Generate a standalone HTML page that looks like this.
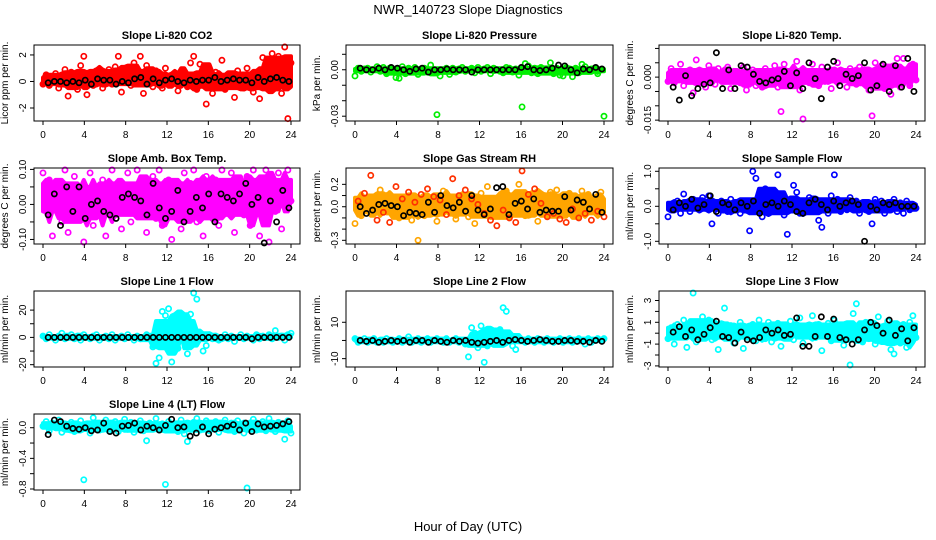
<!DOCTYPE html>
<html><head><meta charset="utf-8"><style>
body{margin:0;background:#fff}
svg{display:block;font-family:"Liberation Sans",sans-serif}
</style></head><body>
<svg id="c" width="936" height="540" viewBox="0 0 936 540">
<text x="468" y="14" text-anchor="middle" font-size="13">NWR_140723  Slope Diagnostics</text>
<text x="468" y="531" text-anchor="middle" font-size="13">Hour of Day (UTC)</text>
</svg>
<script>
const xTicks=[0,4,8,12,16,20,24];
const co2Cloud=[-0.2,0.5,-0.3,0.3,0.6,-0.5,0.1,0.9,-1.1,0.7,0.2,-0.6,1.2,1.9,-1.0,0.6,-0.3,0.8,0.3,-0.5,0.5,0.9,-0.2,1.1,1.9,-0.8,0.3,0.7,-0.3,1.4,0.2,1.9,-0.9,1.2,0.1,-0.4,0.8,0.3,-0.5,1.0,0.4,-0.2,0.6,-0.7,0.3,0.5,-0.4,1.4,1.9,-0.6,1.3,0.4,-1.7,0.2,-0.9,0.7,0.3,1.6,-0.6,0.2,0.5,-1.2,0.8,0.3,-0.5,1.0,0.2,-0.8,0.6,-1.3,1.8,0.4,-0.6,2.1,-0.4,1.9,-0.9,2.6,-2.8,1.4];
const co2Black=[-0.1,0,0,-0.1,0,-0.1,0.1,-0.2,0.2,0.1,0.1,-0.2,0,-0.1,0.2,0.3,-0.2,0.2,-0.1,0.1,0.2,0,-0.1,0.1,0,0.1,0.1,0.3,0,0.1,0.2,0.1,0.1,-0.1,0.3,0,0.2,0.3,0.1,0];
const presCloud=[-0.004,0.001,-0.001,0.0005,0.001,-0.0015,0.0,0.002,-0.001,0.0015,-0.0025,0.001,0.0,-0.005,-0.0055,0.002,-0.0025,0.001,-0.001,0.0015,-0.003,0.0005,0.001,-0.0015,0.003,-0.002,-0.029,-0.004,0.0,0.001,-0.003,0.001,-0.0015,0.0005,0.0015,-0.001,0.0,0.001,-0.002,0.0015,-0.001,0.0005,0.0015,-0.0025,0.001,0.0,-0.001,-0.002,0.0015,0.001,-0.0015,0.0005,-0.0035,-0.024,0.004,0.0025,-0.002,0.001,-0.0025,0.0015,0.0,-0.001,0.0045,-0.0025,0.001,-0.0035,-0.004,0.0015,-0.0015,-0.0045,0.001,-0.002,0.0035,0.002,-0.001,0.0005,0.001,-0.0025,0.0,-0.03];
const presBlack=[0.001,0.0,0.0,0.001,0.0,0.0015,0.001,0.0,-0.001,0.0005,0.001,-0.0015,0.0,0.0,0.0005,0.0,0.0,0.0,-0.0015,0.0,0.0,0.0,0.0,0.0,0.0,0.0,0.0015,0.002,0.0,-0.0005,0.0,0.001,0.003,0.0025,0.0,-0.002,0.0005,0.0,0.0015,0.0005];
const tempCloud=[-0.0015,0.003,-0.002,0.0015,0.0045,-0.003,0.001,0.0025,-0.0055,0.006,-0.001,0.002,-0.0035,0.004,0.0,-0.0025,0.003,0.0015,-0.001,0.0035,-0.004,0.002,0.0005,-0.002,0.0035,-0.0045,0.001,0.0025,-0.003,0.0015,-0.0035,0.003,-0.001,0.002,0.004,-0.0035,-0.012,0.0045,0.001,-0.002,0.0025,0.0055,-0.0045,-0.0155,0.002,-0.002,0.0045,0.001,-0.003,0.0035,-0.0015,0.002,-0.004,0.0025,0.005,-0.001,0.0015,-0.0035,0.003,0.0,-0.0025,0.0035,-0.0015,0.0025,-0.0045,-0.0135,0.005,-0.002,0.004,-0.004,0.0015,-0.006,0.003,0.0065,-0.0035,0.0065,0.002,-0.003,0.0045,-0.001];
const tempBlack=[-0.0035,-0.008,0.0005,-0.0065,-0.004,-0.0025,-0.002,0.0085,-0.004,0.0025,-0.004,0.004,0.0035,0.001,-0.0015,-0.002,-0.001,-0.0005,0.002,-0.003,0.0015,-0.004,0.005,-0.0005,-0.0075,0.0035,0.0055,-0.003,0.001,-0.0005,0.0005,0.005,-0.0045,-0.003,0.0045,-0.005,0.004,-0.0035,0.0065,-0.005];
const ambCloud=[0.09,-0.02,0.07,-0.09,0.03,0.06,-0.05,0.1,-0.08,0.02,0.08,-0.04,0.05,-0.11,0.01,0.09,-0.06,0.04,-0.02,0.07,-0.09,0.03,0.1,-0.03,0.06,-0.07,0.02,0.09,-0.05,0.04,0.11,-0.01,0.06,-0.08,0.03,0.08,-0.04,0.1,-0.06,0.0,0.07,-0.1,0.05,0.02,-0.07,0.09,-0.03,0.06,0.1,-0.05,0.03,-0.09,0.08,0.01,-0.04,0.07,-0.06,0.11,0.02,-0.02,0.09,-0.08,0.04,0.06,-0.03,0.08,-0.06,0.1,0.03,-0.09,0.05,0.12,-0.12,0.07,-0.02,0.09,-0.07,0.04,0.1,0.01];
const ambBlack=[-0.03,0.03,-0.06,0.05,-0.02,0.05,-0.04,0.0,0.01,-0.02,-0.03,-0.04,0.02,0.03,0.02,0.01,-0.03,0.06,-0.01,-0.04,-0.02,0.04,-0.05,-0.02,0.02,-0.01,0.03,-0.05,0.03,0.02,0.01,0.03,0.06,0.0,0.02,-0.11,0.01,-0.05,0.04,-0.01];
const rhCloud=[-0.15,0.05,-0.08,0.12,-0.03,0.28,0.08,-0.12,0.15,-0.05,0.1,-0.14,0.02,0.18,-0.1,0.07,-0.06,0.13,-0.12,0.04,-0.3,0.11,-0.08,0.16,-0.02,0.09,-0.13,0.06,0.14,-0.07,0.03,0.25,-0.11,0.1,-0.04,0.15,-0.09,0.07,-0.15,0.02,0.12,-0.06,0.18,-0.12,0.05,-0.17,0.09,-0.03,0.14,-0.1,0.07,-0.14,0.2,0.32,-0.08,0.11,-0.05,0.16,-0.13,0.03,0.1,-0.09,0.13,-0.06,0.15,-0.11,0.05,-0.14,0.12,-0.02,0.09,-0.1,0.14,-0.06,0.11,-0.12,0.07,-0.04,0.13,-0.09];
const rhBlack=[0.0,-0.06,-0.03,0.02,0.03,0.01,0.0,-0.08,-0.05,-0.06,-0.07,0.04,-0.05,0.1,0.01,-0.01,0.04,-0.04,0.1,-0.03,-0.07,-0.02,0.17,0.18,-0.07,0.03,0.05,-0.02,0.07,-0.05,-0.03,-0.04,-0.04,0.09,-0.03,0.06,0.04,-0.02,0.11,-0.05];
const sfCloud=[-0.3,0.05,-0.1,0.15,-0.2,0.35,0.1,-0.15,0.2,0.0,-0.1,0.25,-0.05,0.3,-0.5,0.1,-0.2,0.15,0.05,-0.15,0.2,-0.1,0.1,-0.2,0.15,-0.05,-0.7,1.0,0.8,0.2,-0.3,0.5,-0.2,0.1,-0.1,0.9,0.2,-0.25,-0.8,0.15,0.6,0.4,-0.2,0.1,-0.15,0.25,-0.1,0.2,-0.4,-0.6,0.15,-0.2,0.3,0.9,0.2,-0.15,0.1,-0.1,0.25,-0.05,0.15,-0.2,0.1,0.05,-0.15,-0.5,0.2,-0.1,0.15,-0.2,0.1,0.0,0.2,-0.15,0.1,-0.2,0.15,-0.1,0.05,-0.05];
const sfBlack=[-0.1,0.1,0.0,0.2,-0.05,0.05,0.3,-0.15,0.1,0.05,-0.1,0.1,0.0,0.15,-0.2,0.05,0.1,0.0,0.15,0.05,-0.15,-0.2,0.1,0.2,0.05,-0.1,0.15,0.0,0.1,0.15,0.05,-1.0,0.0,-0.1,0.1,0.05,0.1,0.0,0.0,0.0];
const l1Cloud=[1,-1,2,0,-2,1,3,-1,0,2,-1,1,-2,2,0,-1,1,2,-2,0,1,-1,2,-2,0,1,-1,2,0,-2,1,-1,0,2,-1,-7,-19,-15,19,16,21,-18,12,-8,5,2,-12,17,34,28,3,-10,-6,2,-1,1,-2,0,2,-1,1,-3,0,2,-1,1,0,-2,2,-1,1,0,2,-1,5,0,1,-2,2,3];
const l1Black=[0,0,0,0,0,0,0,0,0,0,0,0,0,0,0,0,0,0,0,0,0,0,0,0,0,0,0,0,0,0,0,0,0,-1,0,0,0,0,0,0];
const l2Cloud=[1,-1,0,1,-1,0,1,-1,0,-1,1,0,-1,0,1,-1,0,2,-1,0,1,-1,0,1,-1,0,1,0,-1,1,-1,0,1,-1,0,-2,-9,7,4,-4,8,-12,-3,5,1,-2,6,18,16,3,-3,-5,1,0,-1,1,0,-1,1,0,-1,1,0,-1,0,1,-1,0,1,-1,0,1,0,-2,1,-1,0,1,0,1];
const l2Black=[0,-0.5,0,-1,-0.5,0,-0.5,0,-1,0,0,-1,0,-0.5,-1,0,-0.5,0,-1,-1.5,-1,-0.5,0,-1,0,0.5,0,-0.5,0,0.5,0,-0.5,-0.5,0,0,-0.5,-0.5,-1,0,-0.5];
const l3Cloud=[-0.5,0.5,-1,0.8,-0.3,1.2,-1.3,0.4,3.8,-0.8,0.6,1.5,-0.2,1.2,-0.6,0.9,-1.5,0.3,2.3,-0.4,0.7,-0.9,0.2,1.0,-1.4,0.5,-0.3,0.8,-0.7,1.2,0.1,-0.5,1.0,-0.8,0.4,0.9,-1.2,0.6,-0.2,1.1,-0.6,0.3,1.4,-0.9,0.5,-0.1,1.6,-0.4,0.8,-1.6,0.2,0.9,-0.7,1.2,-0.3,0.6,-1.1,0.4,-3.0,1.8,2.7,0.3,-0.8,1.0,-0.5,0.7,-1.0,1.5,0.2,-0.6,1.1,-1.5,-1.9,0.4,-0.9,0.8,-1.3,1.0,1.6,-0.4];
const l3Black=[0.1,0.6,-0.3,0.3,-0.6,-0.1,0.5,1.1,-0.3,-0.4,-0.9,0.1,-0.6,-0.7,-0.4,0.3,0.0,0.3,-0.2,-0.1,1.4,-1.2,-1.2,-0.3,1.5,-0.3,1.3,-0.4,-0.6,-1.0,-0.6,0.3,1.0,0.7,0.0,1.2,-0.2,0.4,-0.7,0.5];
const l4Cloud=[0.02,0.08,-0.04,0.06,0.0,0.1,-0.06,0.04,-0.02,0.07,-0.05,0.03,0.09,-0.68,0.05,-0.07,0.13,0.01,-0.03,0.06,0.1,-0.04,0.02,0.08,-0.05,0.04,0.11,-0.02,0.07,-0.06,0.03,0.09,-0.04,-0.17,0.06,0.0,0.12,-0.03,0.05,-0.74,0.08,-0.01,0.04,-0.05,0.1,-0.08,-0.18,0.02,0.07,0.12,-0.03,0.05,0.09,-0.04,0.01,0.08,-0.06,0.04,0.1,-0.02,0.06,-0.05,0.09,0.03,-0.07,-0.82,0.06,0.11,-0.03,0.05,0.08,-0.04,0.12,0.02,-0.05,0.07,0.0,-0.15,0.09,-0.07];
const l4Black=[-0.09,0.1,0.08,0.02,-0.01,-0.02,0.0,-0.04,-0.03,0.06,-0.05,-0.07,0.02,0.03,0.06,-0.03,0.02,0.0,-0.03,0.03,0.11,0.0,0.01,-0.11,-0.07,0.01,-0.08,-0.02,0.0,0.02,0.04,-0.03,0.06,-0.05,0.05,0.01,0.02,0.03,0.05,0.08];

const colX=[[34,300],[346,613],[659,925]];
const rowY=[[45,121],[168,244],[291,367],[414,490]];
const panels=[
 {id:'co2',c:0,r:0,title:'Slope Li-820 CO2',ylab:'Licor ppm per min.',min:-2.98,max:2.75,ticks:[-2,0,2],labels:['-2','0','2'],color:'#ff0000',cloud:co2Cloud,black:co2Black},
 {id:'pressure',c:1,r:0,title:'Slope Li-820 Pressure',ylab:'kPa per min.',min:-0.0331,max:0.016,ticks:[-0.03,-0.02,-0.01,0,0.01],labels:['-0.03','','','0.00',''],color:'#00ee00',cloud:presCloud,black:presBlack},
 {id:'temp',c:2,r:0,title:'Slope Li-820 Temp.',ylab:'degrees C per min.',min:-0.0153,max:0.0112,ticks:[-0.015,-0.01,-0.005,0,0.005,0.01],labels:['-0.015','','','0.000','',''],color:'#ff00ff',cloud:tempCloud,black:tempBlack},
 {id:'amb',c:0,r:1,title:'Slope Amb. Box Temp.',ylab:'degrees C per min.',min:-0.113,max:0.104,ticks:[-0.1,-0.05,0,0.05,0.1],labels:['-0.10','','0.00','','0.10'],color:'#ff00ff',cloud:ambCloud,black:ambBlack},
 {id:'rh',c:1,r:1,title:'Slope Gas Stream RH',ylab:'percent per min.',min:-0.333,max:0.346,ticks:[-0.3,-0.2,-0.1,0,0.1,0.2],labels:['-0.3','','','0.0','','0.2'],color:'#ffa500',cloud:rhCloud,black:rhBlack},
 {id:'sampleflow',c:2,r:1,title:'Slope Sample Flow',ylab:'ml/min per min.',min:-1.077,max:1.094,ticks:[-1,-0.5,0,0.5,1],labels:['-1.0','','0.0','','1.0'],color:'#0000ff',cloud:sfCloud,black:sfBlack},
 {id:'line1',c:0,r:2,title:'Slope Line 1 Flow',ylab:'ml/min per min.',min:-21.7,max:34,ticks:[-20,-10,0,10,20],labels:['-20','','0','','20'],color:'#00ffff',cloud:l1Cloud,black:l1Black},
 {id:'line2',c:1,r:2,title:'Slope Line 2 Flow',ylab:'ml/min per min.',min:-14.6,max:27.2,ticks:[-10,0,10],labels:['-10','','10'],color:'#00ffff',cloud:l2Cloud,black:l2Black},
 {id:'line3',c:2,r:2,title:'Slope Line 3 Flow',ylab:'ml/min per min.',min:-3.1,max:3.87,ticks:[-3,-2,-1,0,1,2,3],labels:['-3','','-1','','1','','3'],color:'#00ffff',cloud:l3Cloud,black:l3Black},
 {id:'line4',c:0,r:3,title:'Slope Line 4 (LT) Flow',ylab:'ml/min per min.',min:-0.813,max:0.179,ticks:[-0.8,-0.6,-0.4,-0.2,0],labels:['-0.8','','-0.4','','0.0'],color:'#00ffff',cloud:l4Cloud,black:l4Black}
];
const NS='http://www.w3.org/2000/svg';
const svg=document.getElementById('c');
function mk(tag,attrs,parent){const e=document.createElementNS(NS,tag);for(const k in attrs)e.setAttribute(k,attrs[k]);(parent||svg).appendChild(e);return e;}
function quant(a,q){const s=a.slice().sort((x,y)=>x-y);return s[Math.min(s.length-1,Math.max(0,Math.round(q*(s.length-1))))];}
panels.forEach(p=>{
 const [x0,x1]=colX[p.c],[y0,y1]=rowY[p.r];
 const g=mk('g',{});
 
 
 const xs=h=>x0+9+(h/24)*(x1-x0-18);
 const ys=v=>y1-(v-p.min)/(p.max-p.min)*(y1-y0);
 const t=mk('text',{x:(x0+x1)/2,y:y0-6,'text-anchor':'middle','font-size':11,'font-weight':'bold'},g);t.textContent=p.title;
 
 
 const yl=mk('text',{x:0,y:0,transform:`translate(${x0-26},${(y0+y1)/2}) rotate(-90)`,'text-anchor':'middle','font-size':10},g);yl.textContent=p.ylab;
 
 
 const n=p.cloud.length;
 const up=[],lo=[];
 for(let i=0;i<n;i++){
  const w=p.cloud.slice(Math.max(0,i-6),Math.min(n,i+7));
  const h=i*24/(n-1);
  up.push([xs(h),ys(quant(w,0.72))]);lo.push([xs(h),ys(quant(w,0.28))]);
 }
 const poly=up.concat(lo.reverse()).map(q=>q[0].toFixed(1)+','+q[1].toFixed(1)).join(' ');
 const band=mk('polygon',{points:poly,fill:p.color,stroke:p.color,'stroke-width':4,'stroke-linejoin':'round'},g);
 
 
 const pts=mk('g',{fill:'none','stroke-width':1.7},g);
 
 
 p.cloud.forEach((v,i)=>{
  const h=i*24/(n-1);
  const col=(p.id==='rh'&&i%2)?'#ff3000':p.color;
  const cc=mk('circle',{cx:xs(h),cy:Math.max(y0+2,Math.min(y1-2,ys(v))),r:2.6,stroke:col},pts);
  
  
 });
 const bl=mk('g',{fill:'none','stroke-width':1.7,stroke:'#000'},g);
 
 
 const m=p.black.length;
 p.black.forEach((v,i)=>{
  const h=0.5+i*23.3/(m-1);
  const cc=mk('circle',{cx:xs(h),cy:ys(v),r:2.6},bl);
  
  
 });
 const box=mk('rect',{x:x0,y:y0,width:x1-x0,height:y1-y0,fill:'none',stroke:'#000','stroke-width':1},g);
 
 
 mk('line',{x1:xs(0),x2:xs(24),y1:y1,y2:y1,stroke:'#000'},g);
 xTicks.forEach(h=>{
  mk('line',{x1:xs(h),x2:xs(h),y1:y1,y2:y1+4,stroke:'#000'},g);
  const tl=mk('text',{x:xs(h),y:y1+17,'text-anchor':'middle','font-size':10},g);tl.textContent=h;
  
  
 });
 p.ticks.forEach((v,i)=>{
  mk('line',{x1:x0,x2:x0-4,y1:ys(v),y2:ys(v),stroke:'#000'},g);
  if(p.labels[i]){
   const tl=mk('text',{x:0,y:0,transform:`translate(${x0-8},${ys(v)}) rotate(-90)`,'text-anchor':'middle','font-size':10},g);tl.textContent=p.labels[i];
   
   
  }
 });
});
</script>
</body></html>
